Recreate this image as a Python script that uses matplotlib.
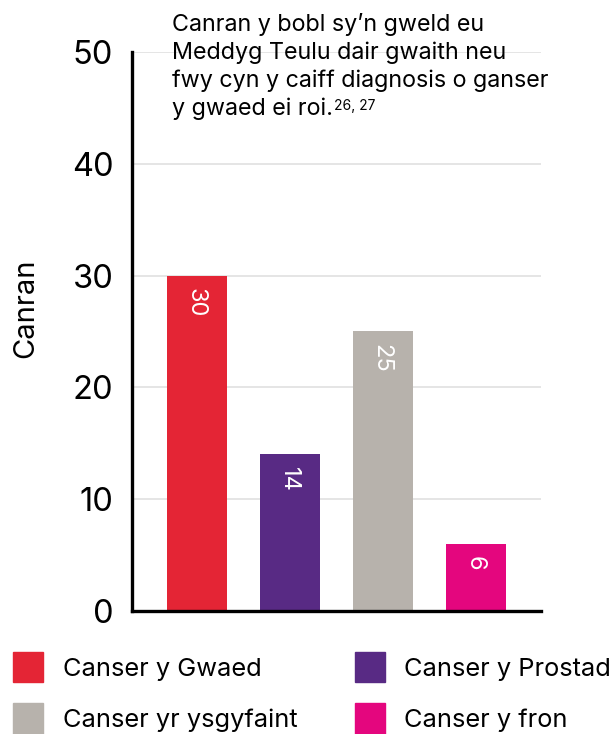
import matplotlib
matplotlib.use("Agg")
import matplotlib.pyplot as plt
from matplotlib.patches import Patch

plt.rcParams["font.family"] = ["Inter", "DejaVu Sans"]

# Data
categories = ["Canser y Gwaed", "Canser y Prostad", "Canser yr ysgyfaint", "Canser y fron"]
values = [30, 14, 25, 6]
colors = ["#E42535", "#582A84", "#B7B2AC", "#E4067E"]
yticks = [0, 10, 20, 30, 40, 50]
title_lines = ["Canran y bobl sy\u2019n gweld eu",
               "Meddyg Teulu dair gwaith neu",
               "fwy cyn y caiff diagnosis o ganser",
               "y gwaed ei roi."]
title_refs = "26, 27"

fig = plt.figure(figsize=(6.16, 7.34), dpi=100)
ax = fig.add_axes([0.2143, 0.1676, 0.664, 0.7616])

x = range(len(values))
bars = ax.bar(x, values, width=0.645, color=colors, zorder=2)

ax.set_xlim(-0.70, 3.70)
ax.set_ylim(0, 50)
ax.set_yticks(yticks)
ax.set_xticks([])
ax.tick_params(axis="y", length=0, pad=13.5, labelsize=23.5)
ax.yaxis.grid(True, color="#e3e3e3", linewidth=1.3, zorder=0)
ax.set_axisbelow(True)
for s in ["top", "right"]:
    ax.spines[s].set_visible(False)
for s in ["left", "bottom"]:
    ax.spines[s].set_linewidth(2.4)
    ax.spines[s].set_zorder(3)
ax.set_ylabel("Canran", fontsize=21, va="center")
ax.yaxis.set_label_coords(-0.261, 0.541)

# value labels inside bars, rotated
for b, v in zip(bars, values):
    ax.annotate(str(v), (b.get_x() + b.get_width() / 2, v),
                xytext=(-1, -9), textcoords="offset points",
                ha="center", va="top", rotation=-90,
                color="white", fontsize=17)

# title inside the plot area, one text per line (baselines in axes fraction)
baselines = [1.0376, 0.9875, 0.9374, 0.8873]
for line, yb in zip(title_lines, baselines):
    t = ax.text(0.0978, yb, line, transform=ax.transAxes,
                ha="left", va="baseline", fontsize=16.8)
ax.annotate(title_refs, xy=(1, 1), xycoords=t, xytext=(1, -1),
            textcoords="offset points", ha="left", va="top", fontsize=10)

# legend filled row by row
order = [0, 2, 1, 3]
handles = [Patch(color=colors[i]) for i in order]
labels = [categories[i] for i in order]
fig.legend(handles, labels, loc="lower left", bbox_to_anchor=(0.021, 0.0),
           ncol=2, frameon=False, fontsize=18.3, handlelength=1.18,
           handleheight=1.48, handletextpad=0.78, columnspacing=2.25,
           labelspacing=0.82, borderaxespad=0, borderpad=0)

fig.savefig("out.png", dpi=100)
